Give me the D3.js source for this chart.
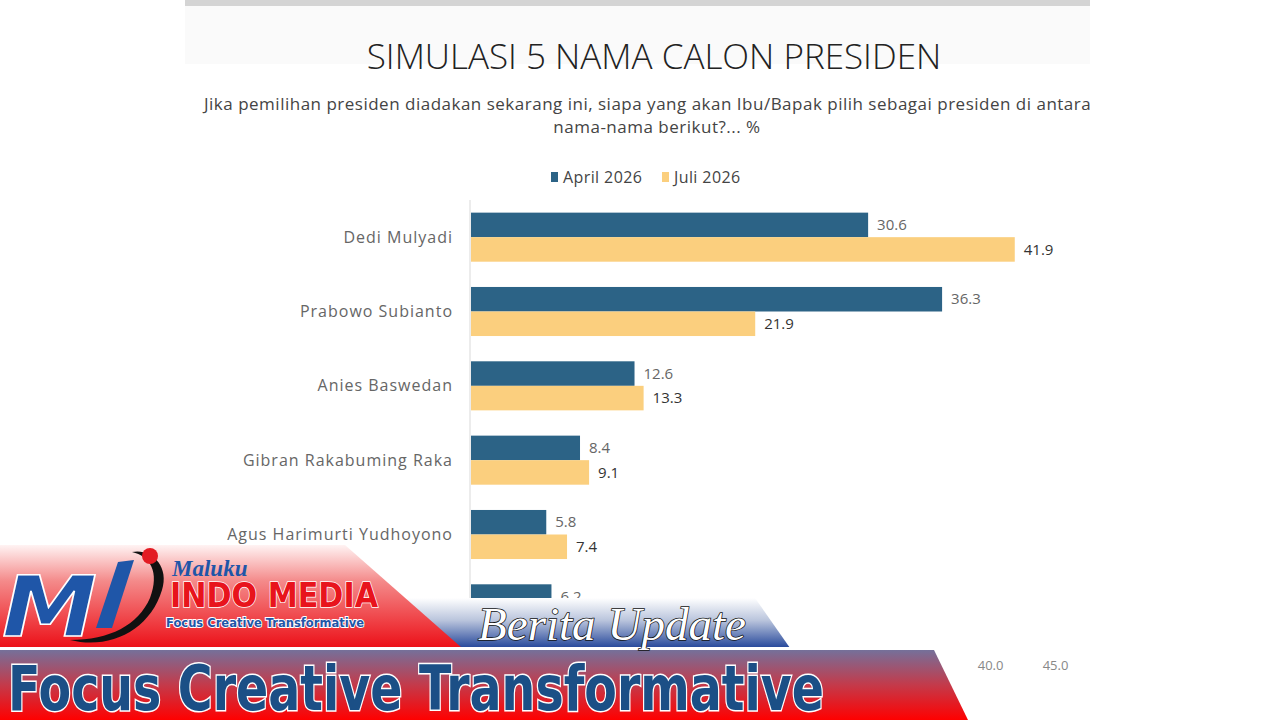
<!DOCTYPE html>
<html>
<head>
	<meta charset="utf-8">
	<script src="https://cdnjs.cloudflare.com/ajax/libs/d3/7.8.5/d3.min.js"></script>
	<style>
		body { margin: 0; background: #fff; }
		svg { display: block; }
		.chart-text { font-family: "Open Sans", "DejaVu Sans", sans-serif; }
	</style>
</head>
<body>
	<svg width="1280" height="720" id="chart"></svg>

	<script>
	//chart data
	let names = ["Dedi Mulyadi", "Prabowo Subianto", "Anies Baswedan", "Gibran Rakabuming Raka", "Agus Harimurti Yudhoyono", "Tidak Tahu/Tidak Jawab"];
	let april = [30.6, 36.3, 12.6, 8.4, 5.8, 6.2];
	let juli = [41.9, 21.9, 13.3, 9.1, 7.4, 6.5];
	let seriesNames = ["April 2026", "Juli 2026"];
	let xTicks = [0, 5, 10, 15, 20, 25, 30, 35, 40, 45];

	let colors = ["#2c6386", "#fbcf7e"];

	let svg = d3.select("svg");
	let defs = svg.append("defs");

	//clip for the screenshot area
	defs.append("clipPath").attr("id", "shot")
		.append("rect").attr("x", 185).attr("y", 0).attr("width", 905).attr("height", 720);

	let shot = svg.append("g").attr("clip-path", "url(#shot)").attr("class", "chart-text");

	//grey strip at top and light band
	shot.append("rect").attr("x", 185).attr("y", 0).attr("width", 905).attr("height", 6).attr("fill", "#d4d4d4");
	shot.append("rect").attr("x", 185).attr("y", 6).attr("width", 905).attr("height", 58).attr("fill", "#fafafa");

	//title
	shot.append("text")
		.attr("x", 654)
		.attr("y", 69)
		.attr("text-anchor", "middle")
		.attr("fill", "#222")
		.style("font-size", "35px")
		.style("font-weight", 300)
		.text("SIMULASI 5 NAMA CALON PRESIDEN");

	//subtitle
	shot.append("text")
		.attr("x", 204)
		.attr("y", 110)
		.attr("fill", "#444")
		.style("font-size", "17px")
		.style("letter-spacing", "0.5px")
		.text("Jika pemilihan presiden diadakan sekarang ini, siapa yang akan Ibu/Bapak pilih sebagai presiden di antara");
	shot.append("text")
		.attr("x", 657)
		.attr("y", 133)
		.attr("text-anchor", "middle")
		.attr("fill", "#444")
		.style("font-size", "17px")
		.style("letter-spacing", "0.5px")
		.text("nama-nama berikut?... %");

	//legend
	let legendX = [551, 662];
	seriesNames.forEach(function(s, i) {
		let lg = shot.append("g").attr("transform", "translate(" + legendX[i] + ",177)");
		lg.append("rect").attr("x", 0).attr("y", -5).attr("width", 7).attr("height", 10).attr("fill", colors[i]);
		lg.append("text").attr("x", 12).attr("y", 0).attr("dy", "0.35em")
			.attr("fill", "#444").style("font-size", "16px").style("letter-spacing", "0.4px").text(s);
	});

	//scales
	let x = d3.scaleLinear().domain([0, 45]).range([471, 1055]);
	let y = d3.scaleBand().domain(names).range([200, 646]).paddingInner(0.34).paddingOuter(0.17);
	let sub = d3.scaleBand().domain([0, 1]).range([0, y.bandwidth()]);

	//vertical axis line
	shot.append("line")
		.attr("x1", x(0) - 1).attr("x2", x(0) - 1)
		.attr("y1", 200).attr("y2", 646)
		.attr("stroke", "#d9d9d9").attr("stroke-width", 1);

	//category labels
	shot.append("g").selectAll("text")
		.data(names)
		.join("text")
		.attr("x", 453)
		.attr("y", function(d) { return y(d) + y.bandwidth() / 2; })
		.attr("dy", "0.35em")
		.attr("text-anchor", "end")
		.attr("fill", "#666")
		.style("font-size", "16px")
		.style("letter-spacing", "1px")
		.text(function(d) { return d; });

	//bars
	[april, juli].forEach(function(series, si) {
		let g = shot.append("g");
		g.selectAll("rect")
			.data(series)
			.join("rect")
			.attr("x", x(0))
			.attr("y", function(d, i) { return y(names[i]) + sub(si); })
			.attr("width", function(d) { return x(d) - x(0); })
			.attr("height", sub.bandwidth())
			.attr("fill", colors[si]);
		g.selectAll("text")
			.data(series)
			.join("text")
			.attr("x", function(d) { return x(d) + 9; })
			.attr("y", function(d, i) { return y(names[i]) + sub(si) + sub.bandwidth() / 2; })
			.attr("dy", "0.35em")
			.attr("fill", si == 0 ? "#666" : "#333")
			.style("font-size", "15px")
			.text(function(d) { return d.toFixed(1); });
	});

	//x axis
	let xAxis = shot.append("g")
		.attr("transform", "translate(0,658)")
		.call(d3.axisBottom(x).tickValues(xTicks).tickSize(0).tickFormat(d3.format(".1f")));
	xAxis.select(".domain").remove();
	xAxis.selectAll("text")
		.attr("fill", "#888")
		.style("font-size", "13px")
		.style("font-family", "'Open Sans', sans-serif");

	//---- news banner overlay ----
	function grad(id, stops) {
		let lg = defs.append("linearGradient").attr("id", id)
			.attr("x1", 0).attr("y1", 0).attr("x2", 0).attr("y2", 1);
		stops.forEach(function(s) {
			lg.append("stop").attr("offset", s[0]).attr("stop-color", s[1]);
		});
	}
	grad("gBlue", [[0, "#ffffff"], [0.45, "#b9c4dc"], [1, "#24469a"]]);
	grad("gRed", [[0, "#fff3f3"], [0.35, "#f48a8a"], [1, "#ec0f17"]]);
	grad("gLow", [[0, "#75709a"], [0.5, "#c43a4a"], [1, "#ff0000"]]);

	let banner = svg.append("g");

	banner.append("path")
		.attr("d", "M400,598 L755,598 L790,648 L400,648 Z")
		.attr("fill", "url(#gBlue)");
	banner.append("path")
		.attr("d", "M0,545 L345,545 L462,648 L0,648 Z")
		.attr("fill", "url(#gRed)");
	banner.append("rect").attr("x", 0).attr("y", 647).attr("width", 930).attr("height", 3).attr("fill", "#fff");
	banner.append("path")
		.attr("d", "M0,650 L934,650 L968,720 L0,720 Z")
		.attr("fill", "url(#gLow)");

	//logo
	banner.append("text")
		.attr("x", 2).attr("y", 636)
		.attr("fill", "#1f56a8")
		.attr("stroke", "#fff").attr("stroke-width", 1.5)
		.style("font-family", "'DejaVu Sans', sans-serif")
		.style("font-weight", "bold")
		.style("font-style", "italic")
		.style("font-size", "84px")
		.attr("textLength", 95)
		.attr("lengthAdjust", "spacingAndGlyphs")
		.text("M");
	banner.append("path")
		.attr("d", "M70,640 C110,650 150,630 162,590 C170,565 150,548 132,552 C150,556 160,572 150,598 C138,625 110,640 70,640 Z")
		.attr("fill", "#111");
	banner.append("path")
		.attr("d", "M118,562 L134,560 L112,628 L96,628 Z")
		.attr("fill", "#1f56a8");
	banner.append("circle").attr("cx", 150).attr("cy", 556).attr("r", 8).attr("fill", "#e31b23");

	banner.append("text")
		.attr("x", 172).attr("y", 576)
		.attr("fill", "#1f56a8")
		.style("font-family", "'Liberation Serif', serif")
		.style("font-style", "italic")
		.style("font-weight", "bold")
		.style("font-size", "23px")
		.text("Maluku");
	banner.append("text")
		.attr("x", 170).attr("y", 607)
		.attr("fill", "#e8141c")
		.attr("stroke", "#fff").attr("stroke-width", 1.5)
		.attr("paint-order", "stroke")
		.style("font-family", "'DejaVu Sans', sans-serif")
		.style("font-weight", "bold")
		.style("font-size", "33px")
		.attr("textLength", 208)
		.attr("lengthAdjust", "spacingAndGlyphs")
		.text("INDO MEDIA");
	banner.append("text")
		.attr("x", 166).attr("y", 627)
		.attr("fill", "#1f56a8")
		.attr("stroke", "#fff").attr("stroke-width", 2)
		.attr("paint-order", "stroke")
		.style("font-family", "'DejaVu Sans', sans-serif")
		.style("font-weight", "bold")
		.style("font-size", "13px")
		.attr("textLength", 198)
		.attr("lengthAdjust", "spacingAndGlyphs")
		.text("Focus Creative Transformative");

	banner.append("text")
		.attr("x", 478).attr("y", 640)
		.attr("fill", "#fff")
		.attr("stroke", "#111").attr("stroke-width", 1.5)
		.attr("paint-order", "stroke")
		.style("font-family", "'Liberation Serif', serif")
		.style("font-style", "italic")
		.style("font-size", "46px")
		.attr("textLength", 268)
		.attr("lengthAdjust", "spacingAndGlyphs")
		.text("Berita Update");

	banner.append("text")
		.attr("x", 8).attr("y", 710)
		.attr("fill", "#1b4f86")
		.attr("stroke", "#fff").attr("stroke-width", 3)
		.attr("paint-order", "stroke")
		.style("font-family", "'DejaVu Sans', sans-serif")
		.style("font-weight", "bold")
		.style("font-size", "62px")
		.attr("textLength", 816)
		.attr("lengthAdjust", "spacingAndGlyphs")
		.text("Focus Creative Transformative");
	</script>
</body>
</html>
